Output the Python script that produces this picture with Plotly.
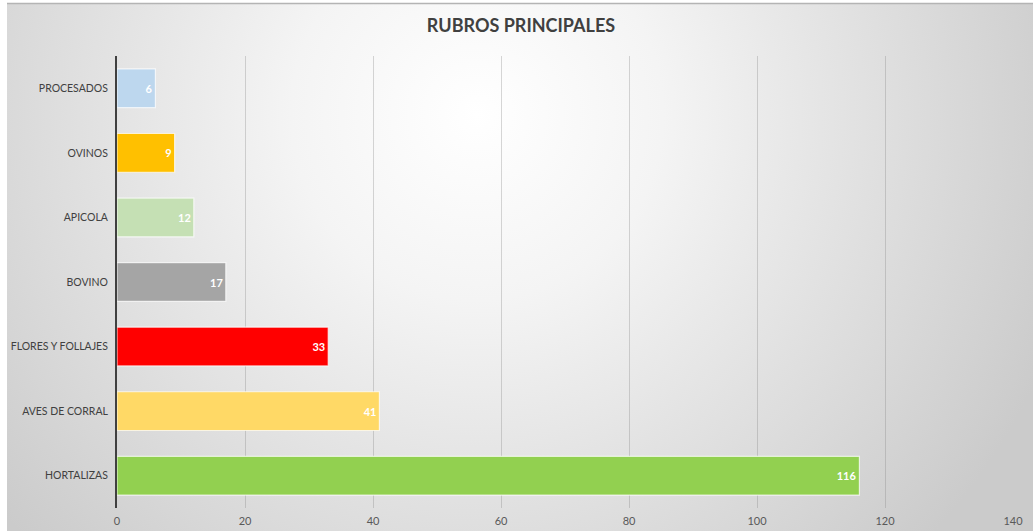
import base64
import plotly.graph_objects as go

categories = ["HORTALIZAS", "AVES DE CORRAL", "FLORES Y FOLLAJES", "BOVINO", "APICOLA", "OVINOS", "PROCESADOS"]
values = [116, 41, 33, 17, 12, 9, 6]
colors = ["#92D050", "#FFD966", "#FF0000", "#A5A5A5", "#C5E0B4", "#FFC000", "#BDD7EE"]
x_ticks = [0, 20, 40, 60, 80, 100, 120, 140]
title_text = "RUBROS PRINCIPALES"

W, H = 1033, 531
L, R, T, B = 117, 20, 56, 23
pw, ph = W - L - R, H - T - B

svg = """<svg xmlns='http://www.w3.org/2000/svg' width='1026' height='527' viewBox='0 0 1026 527' preserveAspectRatio='none'>
<defs><radialGradient id='g' cx='470' cy='110' r='620' gradientUnits='userSpaceOnUse'>
<stop offset='0' stop-color='#ffffff'/><stop offset='0.3' stop-color='#f4f4f4'/><stop offset='1' stop-color='#cbcbcb'/></radialGradient></defs>
<rect x='0' y='0' width='1026' height='527' fill='url(#g)'/></svg>"""
src = "data:image/svg+xml;base64," + base64.b64encode(svg.encode()).decode()

fig = go.Figure(go.Bar(
    y=categories, x=values, orientation="h",
    marker=dict(color=colors, line=dict(color="rgba(255,255,255,0.7)", width=1.2)),
    width=0.6,
    text=[str(v) for v in values], textposition="inside", insidetextanchor="end",
    textfont=dict(color="white", size=11, family="Lato", weight="bold"),
    cliponaxis=False,
))

fig.update_layout(
    width=W, height=H,
    margin=dict(l=L, r=R, t=T, b=B),
    paper_bgcolor="white",
    plot_bgcolor="rgba(0,0,0,0)",
    font=dict(family="Lato", color="#595959", size=11),
    title=dict(text="<b>" + title_text + "</b>", x=521 / W, xanchor="center",
               y=1 - 26 / H, yanchor="middle", yref="container",
               font=dict(size=18, color="#404040", family="Lato")),
    xaxis=dict(range=[0, 140], tickvals=x_ticks, showgrid=True, gridcolor="rgba(130,130,130,0.32)",
               gridwidth=1, zeroline=False, showline=False, ticks="", tickfont=dict(size=11, color="#595959"),
               ticklabelstandoff=5, automargin=False),
    yaxis=dict(showgrid=False, zeroline=False, showline=True, linecolor="#404040", linewidth=2,
               ticks="", ticklabelstandoff=5, tickfont=dict(size=10.5, color="#404040"), automargin=False),
    showlegend=False,
    bargap=0.4,
    images=[dict(source=src, xref="paper", yref="paper",
                 x=(7 - L) / pw, y=1 + (T - 4) / ph, sizex=(W - 7) / pw, sizey=(H - 4) / ph,
                 sizing="stretch", xanchor="left", yanchor="top", layer="below")],
    shapes=[dict(type="line", xref="paper", yref="paper", x0=(7 - L) / pw, x1=(W - L) / pw,
                 y0=1 + (T - 3.5) / ph, y1=1 + (T - 3.5) / ph, line=dict(color="#b4b4b4", width=1.5))],
)

fig.write_html("out.html")
